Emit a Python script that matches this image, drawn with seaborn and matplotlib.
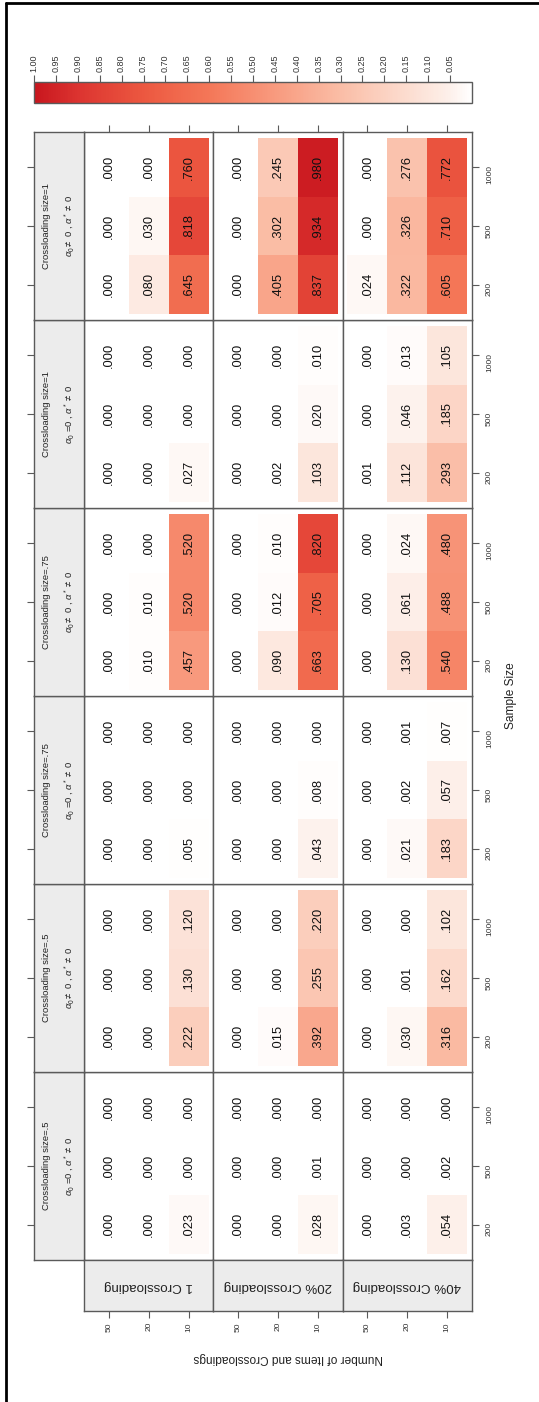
import numpy as np
import pandas as pd
import matplotlib
matplotlib.use("Agg")
import matplotlib.pyplot as plt
import seaborn as sns
from matplotlib.colors import LinearSegmentedColormap
from matplotlib.lines import Line2D

sns.set_theme(style="white")
plt.rcParams["font.family"] = ["Liberation Sans", "DejaVu Sans"]
plt.rcParams["mathtext.fontset"] = "custom"
plt.rcParams["mathtext.rm"] = "Liberation Sans"
plt.rcParams["mathtext.it"] = "Liberation Sans:italic"

# ---- data -------------------------------------------------------------
sample_sizes = [200, 500, 1000]
n_items = [50, 20, 10]
crossloading_types = ["1 Crossloading", "20% Crossloading", "40% Crossloading"]
condition_titles = ["Crossloading size=.5", "Crossloading size=.5",
                    "Crossloading size=.75", "Crossloading size=.75",
                    "Crossloading size=1", "Crossloading size=1"]
condition_alpha = [r"$\alpha_0$ =0 , $\alpha^*\neq$ 0", r"$\alpha_0\neq$ 0 , $\alpha^*\neq$ 0"] * 3

# each block: one 3x3 table per crossloading type,
# rows = sample size (200, 500, 1000), columns = items (50, 20, 10)
size05_alpha0_zero = [
    [[.000, .000, .023], [.000, .000, .000], [.000, .000, .000]],
    [[.000, .000, .028], [.000, .000, .001], [.000, .000, .000]],
    [[.000, .003, .054], [.000, .000, .002], [.000, .000, .000]],
]
size05_alpha0_nonzero = [
    [[.000, .000, .222], [.000, .000, .130], [.000, .000, .120]],
    [[.000, .015, .392], [.000, .000, .255], [.000, .000, .220]],
    [[.000, .030, .316], [.000, .001, .162], [.000, .000, .102]],
]
size075_alpha0_zero = [
    [[.000, .000, .005], [.000, .000, .000], [.000, .000, .000]],
    [[.000, .000, .043], [.000, .000, .008], [.000, .000, .000]],
    [[.000, .021, .183], [.000, .002, .057], [.000, .001, .007]],
]
size075_alpha0_nonzero = [
    [[.000, .010, .457], [.000, .010, .520], [.000, .000, .520]],
    [[.000, .090, .663], [.000, .012, .705], [.000, .010, .820]],
    [[.000, .130, .540], [.000, .061, .488], [.000, .024, .480]],
]
size1_alpha0_zero = [
    [[.000, .000, .027], [.000, .000, .000], [.000, .000, .000]],
    [[.000, .002, .103], [.000, .000, .020], [.000, .000, .010]],
    [[.001, .112, .293], [.000, .046, .185], [.000, .013, .105]],
]
size1_alpha0_nonzero = [
    [[.000, .080, .645], [.000, .030, .818], [.000, .000, .760]],
    [[.000, .405, .837], [.000, .302, .934], [.000, .245, .980]],
    [[.024, .322, .605], [.000, .326, .710], [.000, .276, .772]],
]
conditions = [size05_alpha0_zero, size05_alpha0_nonzero,
              size075_alpha0_zero, size075_alpha0_nonzero,
              size1_alpha0_zero, size1_alpha0_nonzero]

colorbar_ticks = [0.05, 0.10, 0.15, 0.20, 0.25, 0.30, 0.35, 0.40, 0.45, 0.50,
                  0.55, 0.60, 0.65, 0.70, 0.75, 0.80, 0.85, 0.90, 0.95, 1.00]

# ---- style ------------------------------------------------------------
cmap = LinearSegmentedColormap.from_list("power_reds", [
    (0.00, "#ffffff"), (0.05, "#fdf0ea"), (0.15, "#fcdccf"), (0.30, "#fabda6"),
    (0.45, "#f89a7e"), (0.60, "#f47758"), (0.75, "#ec5840"), (0.90, "#dc3430"),
    (1.00, "#c8161e")])
edge = "#5a5a5a"
strip_bg = "#ececec"

W, H = 539, 1402
fig = plt.figure(figsize=(W / 100, H / 100), dpi=100)
fig.patch.set_facecolor("white")

def fx(px):
    return px / W

def fy(py):
    return 1 - py / H

panel_left, panel_right = 84, 472
panel_top, panel_bottom = 132, 1260
pw = (panel_right - panel_left) / 3
ph = (panel_bottom - panel_top) / 6
strip_left = 34
row_strip_bottom = 1311

XLIM = (-0.12, 3.12)
YLIM = (3.1, -0.1)
centers = [0.5, 1.5, 2.5]

for c, data in enumerate(conditions):
    y0 = panel_bottom - (c + 1) * ph
    for r, ctype in enumerate(crossloading_types):
        ax = fig.add_axes([fx(panel_left + r * pw), fy(y0 + ph), fx(pw), ph / H])
        df = pd.DataFrame(data[r], index=sample_sizes, columns=n_items).iloc[::-1]
        labels = df.map(lambda v: f"{v:.3f}".lstrip("0"))
        sns.heatmap(df, ax=ax, cmap=cmap, vmin=0, vmax=1, cbar=False,
                    annot=labels.values, fmt="",
                    annot_kws=dict(rotation=90, fontsize=9.3, color="#111111"))
        ax.set_xlim(*XLIM)
        ax.set_ylim(*YLIM)
        ax.set_xlabel("")
        ax.set_ylabel("")
        ax.set_facecolor("white")
        for s in ax.spines.values():
            s.set_visible(True)
            s.set_color(edge)
            s.set_linewidth(1.0)
        ax.tick_params(left=False, bottom=False, labelleft=False, labelbottom=False)
        if c == len(conditions) - 1:
            ax.tick_params(axis="x", top=True, labeltop=False, direction="out",
                           length=5, width=0.8, color=edge)
        if r == 2:
            ax.set_yticks(centers)
            ax.set_yticklabels([str(s) for s in df.index])
            ax.tick_params(axis="y", right=True, labelright=True, direction="out",
                           length=5, width=0.8, color=edge, labelsize=6,
                           labelrotation=90, pad=5, labelcolor="#333333")

    # condition strip
    sax = fig.add_axes([fx(strip_left), fy(y0 + ph), fx(panel_left - strip_left), ph / H])
    sax.set_facecolor(strip_bg)
    sax.set_xlim(0, 1)
    sax.set_ylim(*YLIM)
    sax.set_xticks([])
    sax.set_yticks(centers)
    sax.tick_params(axis="y", left=True, labelleft=False, direction="out",
                    length=5, width=0.8, color=edge)
    for s in sax.spines.values():
        s.set_visible(True)
        s.set_color(edge)
        s.set_linewidth(1.0)
    sax.text(0.25, 0.5, condition_titles[c], rotation=90, ha="center", va="center",
             fontsize=6.8, color="#222222", transform=sax.transAxes)
    sax.text(0.72, 0.5, condition_alpha[c], rotation=90, ha="center", va="center",
             fontsize=6.8, color="#222222", transform=sax.transAxes)

# crossloading-type strips with item ticks
for r, ctype in enumerate(crossloading_types):
    rax = fig.add_axes([fx(panel_left + r * pw), fy(row_strip_bottom), fx(pw),
                        (row_strip_bottom - panel_bottom) / H])
    rax.set_facecolor(strip_bg)
    rax.set_xlim(*XLIM)
    rax.set_ylim(0, 1)
    rax.set_yticks([])
    rax.set_xticks(centers)
    rax.set_xticklabels([str(n) for n in n_items])
    rax.tick_params(axis="x", bottom=True, direction="out", length=5, width=0.8,
                    color=edge, labelsize=6, labelrotation=90, pad=3,
                    labelcolor="#333333")
    for s in rax.spines.values():
        s.set_visible(True)
        s.set_color(edge)
        s.set_linewidth(1.0)
    rax.text(0.5, 0.5, ctype, rotation=180, ha="center", va="center",
             fontsize=9.6, color="#222222", transform=rax.transAxes)

# colour key
cax = fig.add_axes([fx(strip_left), fy(103), fx(panel_right - strip_left), 21 / H])
sm = plt.cm.ScalarMappable(cmap=cmap, norm=plt.Normalize(0, 1))
cb = fig.colorbar(sm, cax=cax, orientation="horizontal")
cax.invert_xaxis()
cb.set_ticks(colorbar_ticks)
cb.set_ticklabels([f"{t:.2f}" for t in colorbar_ticks])
cax.xaxis.set_ticks_position("top")
cax.tick_params(axis="x", direction="out", length=5, width=0.8, color=edge,
                labelsize=6.5, labelrotation=90, pad=2, labelcolor="#333333")
cb.outline.set_edgecolor(edge)
cb.outline.set_linewidth(1.0)

# axis titles
fig.text(fx(511), fy(696), "Sample Size", rotation=90, ha="center", va="center",
         fontsize=8.6, color="#222222")
fig.text(fx(288), fy(1358), "Number of Items and Crossloadings", rotation=180,
         ha="center", va="center", fontsize=8.6, color="#222222")

# page frame
fig.add_artist(Line2D([fx(6), fx(6)], [0, fy(3)], color="black", lw=2))
fig.add_artist(Line2D([fx(6), 1], [fy(3), fy(3)], color="black", lw=2))

fig.savefig("out.png", dpi=100, facecolor="white")
